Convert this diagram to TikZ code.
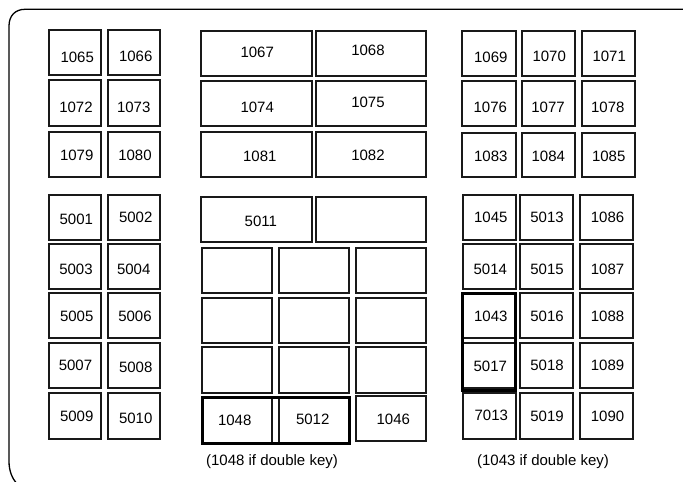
\documentclass[tikz,border=0pt]{standalone}
\usepackage{fontspec}
\setmainfont{Liberation Sans}
\begin{document}
\begin{tikzpicture}[x=1pt,y=-1pt,
  keyst/.style={draw=black!90, line width=1.4pt, inner sep=0pt, outer sep=0pt},
  txt/.style={inner sep=0pt, font=\fontsize{15}{18}\selectfont},
  thick box/.style={draw=black, line width=3pt}]
\useasboundingbox (0,0) rectangle (683,482);
\begin{scope}
\clip (0,0) rectangle (683,482);
\coordinate (ftr) at (690,9.3);
\coordinate (fbl) at (17,484);
\draw[line width=1.3pt] (ftr) -- (25,9.3) .. controls (15,9.3) and (9,16) .. (9,26)
  -- (9,461) .. controls (9,471) and (12,478) .. (fbl);
\end{scope}
% #1 name, #2 x1, #3 y1, #4 x2, #5 y2, #6 tx, #7 ty, #8 label
\newcommand\kb[8]{%
  \node[keyst, minimum width={(#4-#2)*1pt}, minimum height={(#5-#3)*1pt}] (k#1) at ({(#2+#4)/2},{(#3+#5)/2}) {};
  \node[txt] (t#1) at (#6,#7) {#8};}
\newcommand\eb[5]{%
  \node[keyst, minimum width={(#4-#2)*1pt}, minimum height={(#5-#3)*1pt}] (#1) at ({(#2+#4)/2},{(#3+#5)/2}) {};}
% left block
\kb{1065}{49}{30}{101}{75}{77.2}{57.5}{1065}
\kb{1066}{108}{30}{160}{75}{135.7}{56.7}{1066}
\kb{1072}{49}{80}{101}{126}{76}{107.7}{1072}
\kb{1073}{108}{80}{160}{126}{133.7}{107.7}{1073}
\kb{1079}{49}{132}{101}{177}{76.7}{155.5}{1079}
\kb{1080}{108}{132}{160}{177}{135}{155.5}{1080}
\kb{5001}{49}{195}{101}{240}{76.3}{219.3}{5001}
\kb{5002}{108}{195}{160}{240}{135.7}{217.7}{5002}
\kb{5003}{49}{244}{101}{289}{76}{269.3}{5003}
\kb{5004}{108}{244}{160}{289}{133.7}{269.3}{5004}
\kb{5005}{49}{293}{101}{338}{76.7}{316}{5005}
\kb{5006}{108}{293}{160}{338}{135}{316}{5006}
\kb{5007}{49}{343}{101}{388}{75.5}{365}{5007}
\kb{5008}{108}{343}{160}{388}{135.7}{367.3}{5008}
\kb{5009}{49}{393}{101}{439}{76.7}{416.7}{5009}
\kb{5010}{108}{393}{160}{439}{135.7}{418.7}{5010}
% middle block
\kb{1067}{201}{31}{312}{76}{257.2}{52.3}{1067}
\kb{1068}{316}{31}{426}{76}{368}{50}{1068}
\kb{1074}{201}{81}{312}{126}{257.2}{107.7}{1074}
\kb{1075}{316}{81}{426}{126}{368}{102.7}{1075}
\kb{1081}{201}{132}{312}{177}{259.8}{156.7}{1081}
\kb{1082}{316}{132}{426}{177}{368}{155}{1082}
\kb{5011}{201}{197}{312}{242}{260.8}{221}{5011}
\eb{b0}{316}{197}{426}{242}
\eb{b1}{202}{248}{272}{293}
\eb{b2}{279}{248}{349}{293}
\eb{b3}{356}{248}{426}{293}
\eb{b4}{202}{298}{272}{343}
\eb{b5}{279}{298}{349}{343}
\eb{b6}{356}{298}{426}{343}
\eb{b7}{202}{347}{272}{393}
\eb{b8}{279}{347}{349}{393}
\eb{b9}{356}{347}{426}{393}
\kb{1048}{202}{397}{272}{443}{234.7}{420.7}{1048}
\kb{5012}{279}{397}{349}{443}{312.7}{419.3}{5012}
\kb{1046}{356}{396}{426}{441}{393.3}{419.3}{1046}
\node[thick box, minimum width=147pt, minimum height=46pt, inner sep=0pt] (dk1) at (275.5,420) {};
\node[txt] (c1) at (272,462) {(1048 if double key)};
% right block
\kb{1069}{462}{31}{516}{76}{490.8}{57.3}{1069}
\kb{1070}{522}{31}{575}{76}{549.2}{56}{1070}
\kb{1071}{582}{31}{635}{76}{609.2}{56}{1071}
\kb{1076}{462}{81}{516}{126}{490.3}{107.3}{1076}
\kb{1077}{522}{81}{575}{126}{548}{107.3}{1077}
\kb{1078}{582}{81}{635}{126}{607.8}{107.3}{1078}
\kb{1083}{462}{133}{516}{177}{490.8}{156}{1083}
\kb{1084}{522}{133}{575}{177}{548.3}{156}{1084}
\kb{1085}{582}{133}{635}{177}{608.7}{156}{1085}
\kb{1045}{463}{195}{516}{240}{490.8}{217.7}{1045}
\kb{5013}{520}{195}{573}{240}{547}{217.7}{5013}
\kb{1086}{580}{195}{633}{240}{607.5}{217.7}{1086}
\kb{5014}{463}{244}{516}{289}{490.3}{269.3}{5014}
\kb{5015}{520}{244}{573}{289}{547}{269.3}{5015}
\kb{1087}{580}{244}{633}{289}{607.5}{269.3}{1087}
\kb{1043}{463}{293}{516}{338}{490.8}{316}{1043}
\kb{5016}{520}{293}{573}{338}{547}{316}{5016}
\kb{1088}{580}{293}{633}{338}{607.5}{316}{1088}
\kb{5017}{463}{343}{516}{388}{490.3}{366.7}{5017}
\kb{5018}{520}{343}{573}{388}{547}{365}{5018}
\kb{1089}{580}{343}{633}{388}{607.5}{365}{1089}
\kb{7013}{463}{393}{516}{439}{491.3}{415}{7013}
\kb{5019}{520}{393}{573}{439}{547}{416.7}{5019}
\kb{1090}{580}{393}{633}{439}{607.5}{416.7}{1090}
\node[thick box, minimum width=53pt, minimum height=97pt, inner sep=0pt] (dk2) at (488.5,341.5) {};
\node[txt] (c2) at (543,462) {(1043 if double key)};
\end{tikzpicture}
\end{document}
